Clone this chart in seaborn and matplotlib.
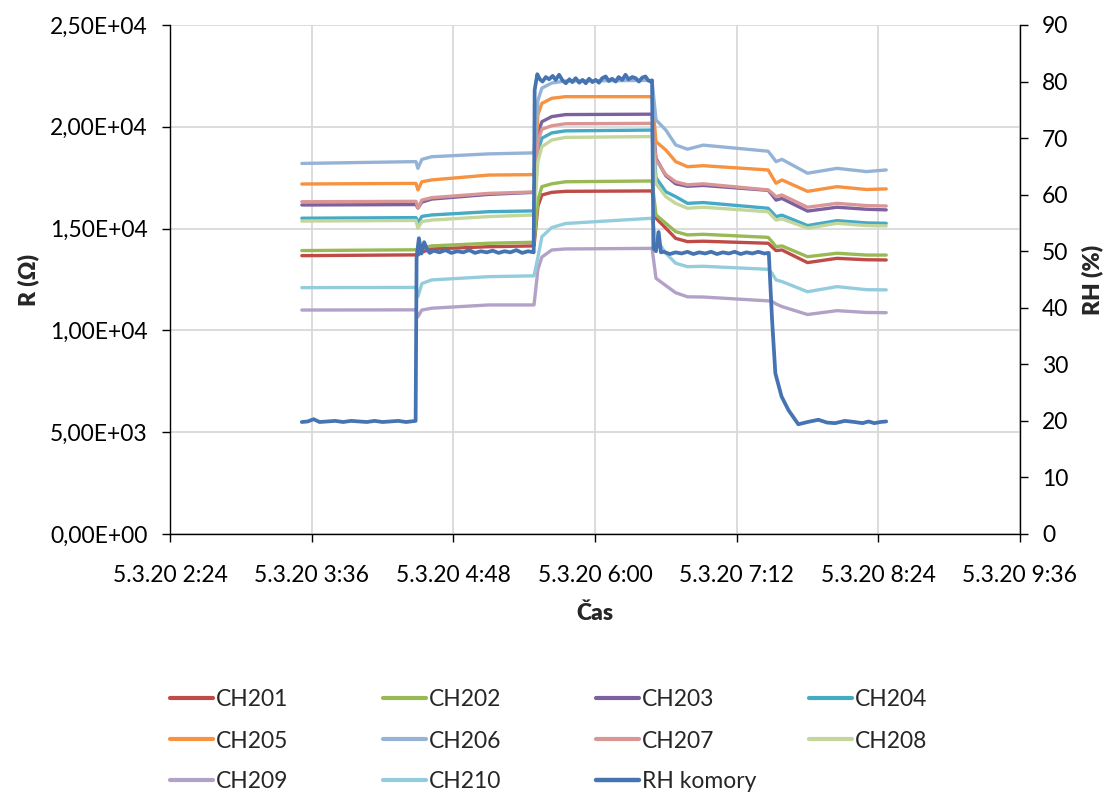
import matplotlib
matplotlib.use("Agg")
import matplotlib.pyplot as plt
import matplotlib.dates as mdates
from matplotlib.lines import Line2D
from matplotlib.ticker import FuncFormatter, MultipleLocator
import pandas as pd
import seaborn as sns

# ---------------------------------------------------------------- data
DAY = "2020-03-05 "

# sampling times shared by the resistance channels
times = ["03:31", "04:29", "04:30", "04:32", "04:37", "05:06", "05:29", "05:31",
         "05:33", "05:38", "05:45", "06:29", "06:31", "06:36", "06:41", "06:47",
         "06:55", "07:28", "07:30", "07:32", "07:35", "07:48", "08:03", "08:18",
         "08:28"]

ch201 = [13670, 13710, 13700, 13850, 14000, 14110, 14150, 16100, 16650, 16780, 16830, 16850, 15510,
         15020, 14520, 14360, 14380, 14280, 14100, 13920, 13950, 13330, 13540, 13470, 13460]
ch202 = [13920, 13960, 13950, 14050, 14150, 14280, 14330, 16400, 17060, 17200, 17300, 17340, 15670,
         15260, 14850, 14690, 14720, 14570, 14350, 14110, 14150, 13620, 13790, 13700, 13700]
ch203 = [16160, 16180, 16010, 16300, 16450, 16680, 16780, 19700, 20250, 20500, 20600, 20620, 18450,
         17600, 17200, 17080, 17120, 16880, 16650, 16400, 16480, 15860, 16050, 15950, 15920]
ch204 = [15510, 15540, 15280, 15600, 15670, 15830, 15870, 18800, 19440, 19700, 19800, 19840, 17500,
         16810, 16570, 16240, 16280, 16000, 15800, 15590, 15660, 15150, 15390, 15280, 15260]
ch205 = [17190, 17220, 16900, 17300, 17390, 17630, 17650, 20600, 21150, 21400, 21480, 21480, 19270,
         18860, 18290, 18040, 18090, 17880, 17550, 17230, 17390, 16830, 17060, 16920, 16950]
ch206 = [18200, 18290, 17960, 18400, 18530, 18670, 18720, 21300, 21900, 22150, 22250, 22280, 20340,
         19840, 19110, 18900, 19100, 18800, 18550, 18290, 18400, 17720, 17960, 17800, 17880]
ch207 = [16320, 16340, 16010, 16400, 16520, 16730, 16800, 19300, 19880, 20050, 20150, 20170, 18370,
         17650, 17300, 17150, 17200, 16900, 16750, 16570, 16650, 16050, 16240, 16130, 16110]
ch208 = [15370, 15400, 15020, 15350, 15420, 15590, 15670, 18300, 19020, 19350, 19480, 19520, 17200,
         16570, 16240, 16000, 16050, 15830, 15620, 15420, 15480, 15020, 15260, 15150, 15130]
ch209 = [11000, 11010, 10670, 11000, 11090, 11250, 11250, 13000, 13600, 13950, 14000, 14030, 12560,
         12200, 11850, 11650, 11640, 11450, 11420, 11300, 11170, 10780, 10970, 10880, 10870]
ch210 = [12100, 12110, 11660, 12300, 12480, 12640, 12680, 13600, 14600, 15050, 15250, 15510, 14500,
         13790, 13300, 13130, 13150, 13000, 12800, 12480, 12400, 11900, 12150, 12000, 11990]

channel_names = ["CH201", "CH202", "CH203", "CH204", "CH205",
                 "CH206", "CH207", "CH208", "CH209", "CH210"]
channel_values = [ch201, ch202, ch203, ch204, ch205, ch206, ch207, ch208, ch209, ch210]

# relative humidity of the chamber (time, %)
rh_points = [
    ("03:31", 19.8), ("03:34", 19.9), ("03:37", 20.3), ("03:40", 19.8), ("03:44", 19.9),
    ("03:48", 20.0), ("03:52", 19.8), ("03:56", 20.0), ("04:00", 19.9), ("04:04", 19.8),
    ("04:08", 20.0), ("04:12", 19.8), ("04:16", 19.9), ("04:20", 20.0), ("04:24", 19.8),
    ("04:28:50", 20.0), ("04:29:20", 49.0), ("04:30:30", 52.3), ("04:31:50", 49.6),
    ("04:33:10", 51.6), ("04:34:40", 50.3), ("04:36", 49.7), ("04:38", 50.1), ("04:41", 49.8),
    ("04:44", 50.2), ("04:47", 49.7), ("04:50", 50.0), ("04:53", 49.8), ("04:56", 50.2),
    ("04:59", 49.7), ("05:02", 50.0), ("05:05", 49.8), ("05:08", 50.1), ("05:11", 49.7),
    ("05:14", 50.0), ("05:17", 49.8), ("05:20", 50.2), ("05:23", 49.7), ("05:26", 50.0),
    ("05:28:50", 49.8), ("05:29:20", 78.5), ("05:30:40", 81.3), ("05:32", 80.4),
    ("05:33:20", 80.0), ("05:35", 80.8), ("05:36:40", 80.4), ("05:38:30", 81.0), ("05:40", 80.3),
    ("05:41:45", 81.2), ("05:43:30", 80.2), ("05:45:10", 79.7), ("05:47", 80.4),
    ("05:48:30", 79.9), ("05:50:10", 80.6), ("05:52", 79.8), ("05:53:40", 80.3),
    ("05:55:20", 79.7), ("05:57", 80.5), ("05:58:40", 79.9), ("06:00:20", 80.3), ("06:02", 79.8),
    ("06:03:40", 80.6), ("06:05:25", 80.9), ("06:07", 80.1), ("06:08:40", 80.5),
    ("06:10:30", 80.0), ("06:12", 80.8), ("06:13:50", 80.3), ("06:15:30", 81.2), ("06:17", 80.4),
    ("06:19", 80.8), ("06:20:40", 80.6), ("06:22:20", 80.0), ("06:24", 80.7), ("06:25:40", 80.9),
    ("06:27", 80.2), ("06:28:20", 80.0), ("06:29:00", 80.2), ("06:29:40", 50.5),
    ("06:31:00", 50.0), ("06:32:20", 53.4), ("06:33:30", 49.8), ("06:35", 49.9), ("06:38", 49.5),
    ("06:41", 49.8), ("06:44", 49.6), ("06:47", 49.9), ("06:50", 49.5), ("06:53", 49.8),
    ("06:56", 49.6), ("06:59", 49.9), ("07:02", 49.5), ("07:05", 49.8), ("07:08", 49.6),
    ("07:11", 49.9), ("07:14", 49.5), ("07:17", 49.8), ("07:20", 49.6), ("07:23", 49.9),
    ("07:26", 49.6), ("07:28:20", 49.7), ("07:29:10", 43.7), ("07:30:00", 37.8),
    ("07:31:40", 28.4), ("07:34:50", 24.3), ("07:38:20", 21.9), ("07:43:20", 19.4),
    ("07:48", 19.8), ("07:53:30", 20.2), ("07:58", 19.7), ("08:02", 19.6), ("08:07", 20.0),
    ("08:12", 19.8), ("08:16", 19.6), ("08:19", 19.9), ("08:22", 19.6), ("08:25", 19.8),
    ("08:28", 19.9),
]
rh_label = "RH komory"

colors = {
    "CH201": "#BE4B48", "CH202": "#98B954", "CH203": "#7D60A0", "CH204": "#46AAC5",
    "CH205": "#F69240", "CH206": "#95B3D7", "CH207": "#D99694", "CH208": "#C3D69B",
    "CH209": "#B3A2C7", "CH210": "#93CDDD", rh_label: "#4674B3",
}

x_ticks = ["02:24", "03:36", "04:48", "06:00", "07:12", "08:24", "09:36"]

# ---------------------------------------------------------------- frames
long_rows = []
for name, vals in zip(channel_names, channel_values):
    for t, v in zip(times, vals):
        long_rows.append({"Čas": pd.Timestamp(DAY + t), "channel": name, "R": v})
df = pd.DataFrame(long_rows)

rh = pd.DataFrame({"Čas": [pd.Timestamp(DAY + t) for t, _ in rh_points],
                   "RH": [v for _, v in rh_points]})

# ---------------------------------------------------------------- style
sns.set_style("white")
FONT = ["Lato", "DejaVu Sans"]
plt.rcParams["font.family"] = FONT
FS = 16.5

fig = plt.figure(figsize=(11.09, 7.96), dpi=100)
ax = fig.add_axes([170 / 1109, 1 - 534 / 796, 850 / 1109, 509 / 796])

sns.lineplot(data=df, x="Čas", y="R", hue="channel", hue_order=channel_names,
             palette=colors, linewidth=2.4, estimator=None, sort=False,
             legend=False, ax=ax)

ax2 = ax.twinx()
sns.lineplot(data=rh, x="Čas", y="RH", color=colors[rh_label], linewidth=2.7,
             estimator=None, sort=False, legend=False, ax=ax2)

# x axis: dates every 72 minutes
tick_dt = [pd.Timestamp(DAY + t) for t in x_ticks]
ax.set_xlim(tick_dt[0], tick_dt[-1])
ax.set_xticks(tick_dt)
ax.xaxis.set_major_formatter(FuncFormatter(
    lambda v, pos: (lambda d: f"5.3.20 {d.hour}:{d.minute:02d}")(mdates.num2date(v))))

ax.set_ylim(0, 25000)
ax.yaxis.set_major_locator(MultipleLocator(5000))
ax.yaxis.set_major_formatter(FuncFormatter(lambda v, pos: f"{v:.2E}".replace(".", ",")))
ax2.set_ylim(0, 90)
ax2.yaxis.set_major_locator(MultipleLocator(10))

ax.grid(True, color="#d9d9d9", linewidth=1.3)
ax.set_axisbelow(True)
ax2.grid(False)

for a in (ax, ax2):
    a.spines["top"].set_visible(False)
    for s in a.spines.values():
        s.set_color("black")
        s.set_linewidth(1.0)
ax.spines["right"].set_visible(False)
ax2.spines["left"].set_visible(False)
ax2.spines["bottom"].set_visible(False)

ax.tick_params(axis="both", direction="out", length=6, width=1.0, color="black",
               labelsize=FS, labelcolor="black")
ax.tick_params(axis="y", left=True, pad=10)
ax.tick_params(axis="x", bottom=True, pad=16)
ax2.tick_params(axis="y", direction="out", length=6, width=1.0, color="black",
                labelsize=FS, labelcolor="black", pad=10, right=True)

ax.set_xlabel("Čas", fontsize=FS, fontweight="heavy")
ax.set_ylabel("R (Ω)", fontsize=FS, fontweight="heavy")
ax2.set_ylabel("RH (%)", fontsize=FS, fontweight="heavy")
ax.xaxis.set_label_coords((595 - 170) / 850, (534 - 603) / 509)
ax.yaxis.set_label_coords((39 - 170) / 850, 0.5)
ax2.yaxis.set_label_coords((1081 - 170) / 850, 0.5)

# ---------------------------------------------------------------- legend grid
legend_order = [["CH201", "CH202", "CH203", "CH204"],
                ["CH205", "CH206", "CH207", "CH208"],
                ["CH209", "CH210", rh_label]]
col_x = [170, 383, 596, 809]
row_y = [700, 741, 782]
for r, row in enumerate(legend_order):
    for c, name in enumerate(row):
        h = Line2D([], [], color=colors[name], linewidth=3.2 if name == rh_label else 3.0)
        fig.legend(handles=[h], labels=[name], loc="center left",
                   bbox_to_anchor=(col_x[c] / 1109, 1 - row_y[r] / 796),
                   frameon=False, fontsize=FS, borderpad=0, borderaxespad=0,
                   handlelength=43 / (FS * 100 / 72), handletextpad=0.14)

fig.savefig("out.png", dpi=100)
